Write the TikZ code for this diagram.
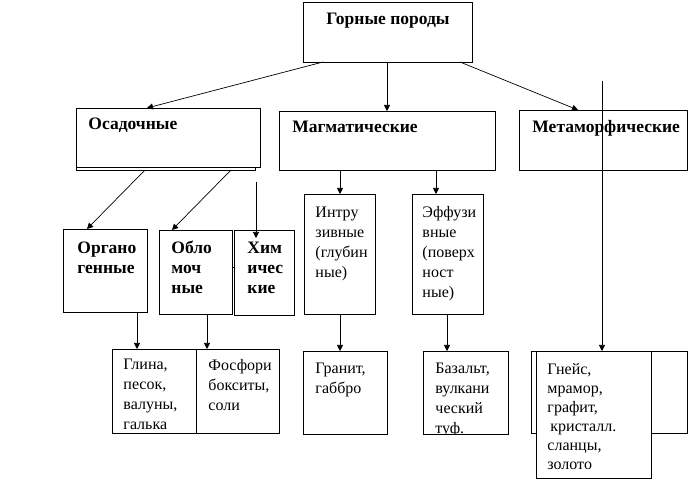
\documentclass[tikz,border=0pt]{standalone}
\usepackage{fontspec}
\setmainfont{Liberation Serif}
\usetikzlibrary{arrows.meta}
\begin{document}
\begin{tikzpicture}[x=1pt,y=-1pt,line width=0.9pt,
  box/.style={draw,fill=white,anchor=north west,inner sep=0pt,outer sep=0pt},
  hd/.style={font=\fontsize{17.5}{20}\selectfont\bfseries,inner sep=0pt,anchor=base west},
  hdm/.style={font=\fontsize{17.5}{20}\selectfont\bfseries,inner sep=0pt,anchor=north west,align=left},
  tx/.style={font=\fontsize{16}{20}\selectfont,inner sep=0pt,anchor=north west,align=left},
  arr/.style={-{Triangle[length=6pt,width=6pt]}},
  ln/.style={line width=0.7pt}
]
\useasboundingbox[fill=white] (0,0) rectangle (691,494);

% boxes
\node[box,minimum width=169pt,minimum height=60pt] (top) at (303,2) {};
\node[box,minimum width=179pt,minimum height=59pt] (osadB) at (76,111) {};
\node[box,minimum width=184pt,minimum height=59pt] (osad) at (76,108) {};
\node[box,minimum width=216pt,minimum height=59pt] (magm) at (279,111) {};
\node[box,minimum width=168pt,minimum height=60pt] (meta) at (519,110) {};
\node[box,minimum width=84pt,minimum height=83pt] (org) at (63,229) {};
\node[box,minimum width=73pt,minimum height=84pt] (oblo) at (159,230) {};
\node[box,minimum width=60pt,minimum height=85pt] (khim) at (234,230) {};
\node[box,minimum width=71pt,minimum height=120pt] (intr) at (304,194) {};
\node[box,minimum width=71pt,minimum height=120pt] (eff) at (412,194) {};
\node[box,minimum width=84pt,minimum height=84pt] (glina) at (112,349) {};
\node[box,minimum width=83pt,minimum height=84pt] (fosf) at (196,349) {};
\node[box,minimum width=84pt,minimum height=83pt] (granit) at (303,351) {};
\node[box,minimum width=85pt,minimum height=83pt] (bazalt) at (423,351) {};
\node[box,minimum width=156pt,minimum height=82pt] (gneisB) at (531,351) {};
\node[box,minimum width=115pt,minimum height=127pt] (gneis) at (536,351) {};

% texts
\node[hd,anchor=base] (tTop) at (388,25) {Горные породы};
\node[hd] (tOsad) at (88,130) {Осадочные};
\node[hd] (tMagm) at (292,133) {Магматические};
\node[hd] (tMeta) at (532,133) {Метаморфические};
\node[hdm] (tOrg) at (77,239) {\strut Органо\\генные};
\node[hdm] (tOblo) at (171,239) {\strut Обло\\моч\\ные};
\node[hdm] (tKhim) at (247,239) {\strut Хим\\ичес\\кие};
\node[tx] (tIntr) at (315,203) {\strut Интру\\зивные\\(глубин\\ные)};
\node[tx] (tEff) at (422,203) {\strut Эффузи\\вные\\(поверх\\ност\\ные)};
\node[tx] (tGlina) at (123,355) {\strut Глина,\\песок,\\валуны,\\галька};
\begin{scope}
\clip (196,349) rectangle (279,433);
\node[tx] (tFosf) at (208,356) {\strut Фосфори\\бокситы,\\соли};
\end{scope}
\node[tx] (tGranit) at (315,359) {\strut Гранит,\\габбро};
\begin{scope}
\clip (423,351) rectangle (508,434);
\node[tx] (tBazalt) at (435,359) {\strut Базальт,\\вулкани\\ческий\\туф.};
\end{scope}
\node[tx,font=\fontsize{16}{19}\selectfont] (tGneis) at (547,361) {\strut Гнейс,\\мрамор,\\графит,\\\hspace{3pt}кристалл.\\сланцы,\\золото};

% connectors
\draw[ln,arr] ([xshift=20pt]top.south west) -- ([xshift=71pt]osad.north west);
\draw[ln,arr] ([xshift=84pt]top.south west) -- ([xshift=108pt]magm.north west);
\draw[ln,arr] ([xshift=157pt]top.south west) -- ([xshift=59pt]meta.north west);
\coordinate (mtop) at (602,81);
\draw[ln,arr] (mtop) -- ([xshift=66pt]gneis.north west);
\draw[ln,arr] ([xshift=69pt]osadB.south west) -- ([xshift=24pt]org.north west);
\draw[ln,arr] ([xshift=155pt]osadB.south west) -- ([xshift=13pt]oblo.north west);
\coordinate (kh) at (256,182);
\draw[ln,arr] (kh) -- ([xshift=22pt,yshift=-8pt]khim.north west);
\draw[ln,arr] ([xshift=61pt]magm.south west) -- ([xshift=36pt]intr.north west);
\draw[ln,arr] ([xshift=157pt]magm.south west) -- ([xshift=24pt]eff.north west);
\draw[ln,arr] ([xshift=74pt]org.south west) -- ([xshift=25pt]glina.north west);
\draw[ln,arr] ([xshift=48pt]oblo.south west) -- ([xshift=11pt]fosf.north west);
\draw[ln,arr] ([xshift=36pt]intr.south west) -- ([xshift=37pt]granit.north west);
\draw[ln,arr] ([xshift=35pt]eff.south west) -- ([xshift=24pt]bazalt.north west);
\draw[ln] ([yshift=5pt]oblo.east) -- ([yshift=5.5pt]khim.west);
\end{tikzpicture}
\end{document}
